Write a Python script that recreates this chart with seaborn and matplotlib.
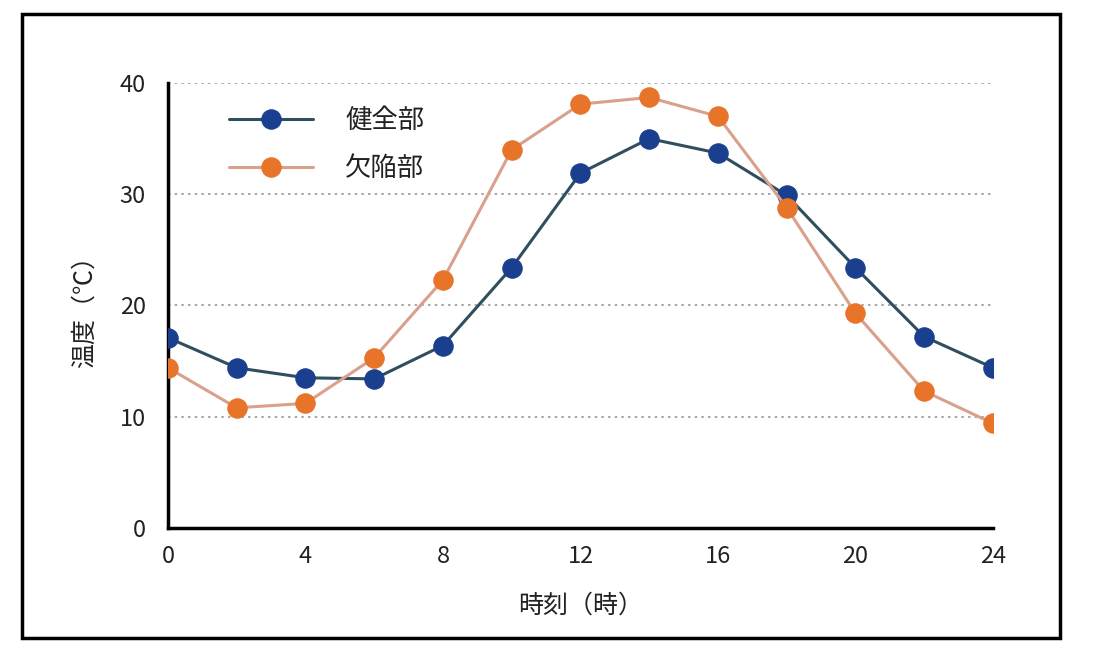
import matplotlib
matplotlib.use("Agg")
import matplotlib.pyplot as plt
import seaborn as sns
import pandas as pd
from matplotlib.patches import Rectangle

hours = [0, 2, 4, 6, 8, 10, 12, 14, 16, 18, 20, 22, 24]
healthy = [17.1, 14.4, 13.5, 13.4, 16.4, 23.4, 31.9, 35.0, 33.7, 29.9, 23.4, 17.2, 14.4]
defect = [14.4, 10.8, 11.2, 15.3, 22.3, 34.0, 38.1, 38.7, 37.0, 28.8, 19.3, 12.3, 9.4]
series_names = ["健全部", "欠陥部"]
x_ticks = [0, 4, 8, 12, 16, 20, 24]
y_ticks = [0, 10, 20, 30, 40]

sns.set_theme(style="white")
plt.rcParams['font.family'] = ['Noto Sans CJK JP', 'DejaVu Sans']

df = pd.DataFrame({
    "時刻": hours * 2,
    "温度": healthy + defect,
    "系列": [series_names[0]] * len(hours) + [series_names[1]] * len(hours),
})

fig = plt.figure(figsize=(10.95, 6.51), dpi=100)
ax = fig.add_axes([0.1534, 0.189, 0.7534, 0.6835])

line_colors = {series_names[0]: "#2f4f5f", series_names[1]: "#d9a08c"}
marker_colors = {series_names[0]: "#1b3f8f", series_names[1]: "#e8742a"}

for name in series_names:
    sub = df[df["系列"] == name]
    sns.lineplot(data=sub, x="時刻", y="温度", ax=ax, color=line_colors[name],
                 linewidth=2.2, marker="o", markersize=14,
                 markerfacecolor=marker_colors[name], markeredgecolor=marker_colors[name],
                 label=name, zorder=3)

ax.set_xlim(0, 24)
ax.set_ylim(0, 40)
ax.set_xticks(x_ticks)
ax.set_yticks(y_ticks)
for y in [10, 20, 30, 40]:
    ax.axhline(y, color="#9a9a9a", linestyle=(0, (1.5, 2.5)), linewidth=1.2, zorder=1)

for s in ["top", "right"]:
    ax.spines[s].set_visible(False)
for s in ["left", "bottom"]:
    ax.spines[s].set_color("black")
    ax.spines[s].set_linewidth(2.5)

ax.tick_params(axis="both", direction="in", length=8, width=2, colors="black",
               labelsize=17, labelcolor="#222222")
ax.tick_params(axis="x", pad=12)
ax.tick_params(axis="y", pad=16)
ax.set_xlabel("時刻（時）", fontsize=18, color="#222222", labelpad=18)
ax.set_ylabel("温度（℃）", fontsize=18, color="#222222", labelpad=16)

leg = ax.legend(loc="upper left", bbox_to_anchor=(0.045, 1.0), frameon=False,
                fontsize=19, handlelength=3.2, labelspacing=0.8, handletextpad=1.2)
for t in leg.get_texts():
    t.set_color("#222222")

fig.patches.append(Rectangle((0.02, 0.02), 0.948, 0.958, transform=fig.transFigure,
                             fill=False, edgecolor="black", linewidth=2.5))

fig.savefig("out.png", dpi=100)
